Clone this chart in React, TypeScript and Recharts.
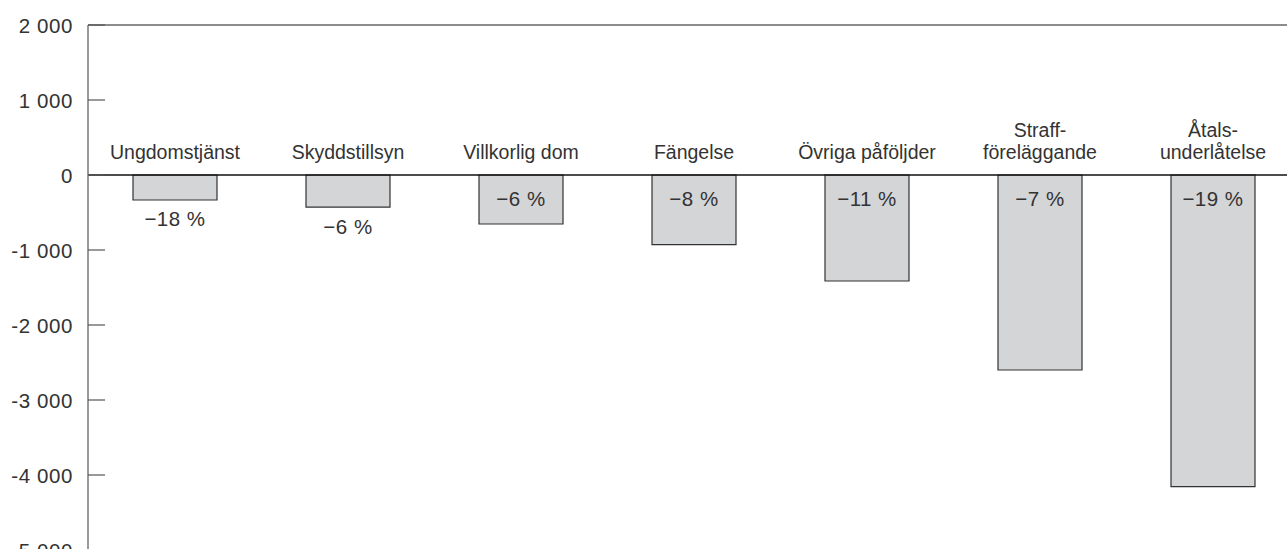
import React from 'react';
import { BarChart, Bar, XAxis, YAxis, ReferenceLine, LabelList } from 'recharts';

const categories = [
  'Ungdomstjänst',
  'Skyddstillsyn',
  'Villkorlig dom',
  'Fängelse',
  'Övriga påföljder',
  'Straff-\nföreläggande',
  'Åtals-\nunderlåtelse',
];
const changes = [-333, -427, -653, -929, -1413, -2600, -4155];
const percentLabels = ['−18 %', '−6 %', '−6 %', '−8 %', '−11 %', '−7 %', '−19 %'];
const yTicks = [2000, 1000, 0, -1000, -2000, -3000, -4000, -5000];

const FONT = '"Liberation Sans", Arial, sans-serif';
const TEXT = '#333';

const data = categories.map((name, i) => ({ name, value: changes[i], pct: percentLabels[i] }));

// tusental med mellanslag: -5000 -> "-5 000"
const fmt = (v: number) => {
  const s = String(Math.abs(v)).replace(/\B(?=(\d{3})+(?!\d))/g, ' ');
  return v < 0 ? '-' + s : s;
};

const YTick = (props: any) => {
  const { x, y, payload } = props;
  return (
    <g>
      <text x={x + 1} y={y} textAnchor="end" dominantBaseline="central" fontFamily={FONT} fontSize={20.5} letterSpacing={0.6} fill={TEXT}>
        {fmt(payload.value)}
      </text>
      <line x1={x + 16} x2={x + 33} y1={y} y2={y} stroke="#555" strokeWidth={1.2} />
    </g>
  );
};

const CategoryLabel = (props: any) => {
  const { x, y, width, height, value } = props;
  const top = Math.min(y, y + height);
  const lines = String(value).split('\n');
  return (
    <text textAnchor="middle" fontFamily={FONT} fontSize={19.5} fill={TEXT}>
      {lines.map((ln, i) => (
        <tspan key={i} x={x + width / 2} y={top - 16 - (lines.length - 1 - i) * 22}>
          {ln}
        </tspan>
      ))}
    </text>
  );
};

const PctLabel = (props: any) => {
  const { x, y, width, height, value } = props;
  const top = Math.min(y, y + height);
  const bottom = Math.max(y, y + height);
  const inside = bottom - top > 40;
  const ty = inside ? top + 23 : bottom + 19;
  return (
    <text x={x + width / 2} y={ty} textAnchor="middle" dominantBaseline="central" fontFamily={FONT} fontSize={20.5} letterSpacing={0.5} fill={TEXT}>
      {value}
    </text>
  );
};

export default function App() {
  return (
    <div style={{ position: 'absolute', left: 0, top: 0, width: 1287, height: 549, overflow: 'hidden', background: '#fff' }}>
      <BarChart width={1300} height={560} data={data} margin={{ top: 25, right: 1, left: 0, bottom: 10 }}>
        <XAxis dataKey="name" hide />
        <YAxis
          type="number"
          domain={[-5000, 2000]}
          ticks={yTicks}
          interval={0}
          width={88}
          tickSize={0}
          tickMargin={16}
          tick={<YTick />}
          axisLine={{ stroke: '#777', strokeWidth: 1.5 }}
        />
        <ReferenceLine y={2000} stroke="#666" strokeWidth={1.5} />
        <Bar dataKey="value" barSize={84} fill="#d4d5d7" stroke="#333" strokeWidth={1.2} isAnimationActive={false}>
          <LabelList dataKey="name" content={<CategoryLabel />} />
          <LabelList dataKey="pct" content={<PctLabel />} />
        </Bar>
        <ReferenceLine y={0} stroke="#111" strokeWidth={1.5} />
      </BarChart>
    </div>
  );
}
